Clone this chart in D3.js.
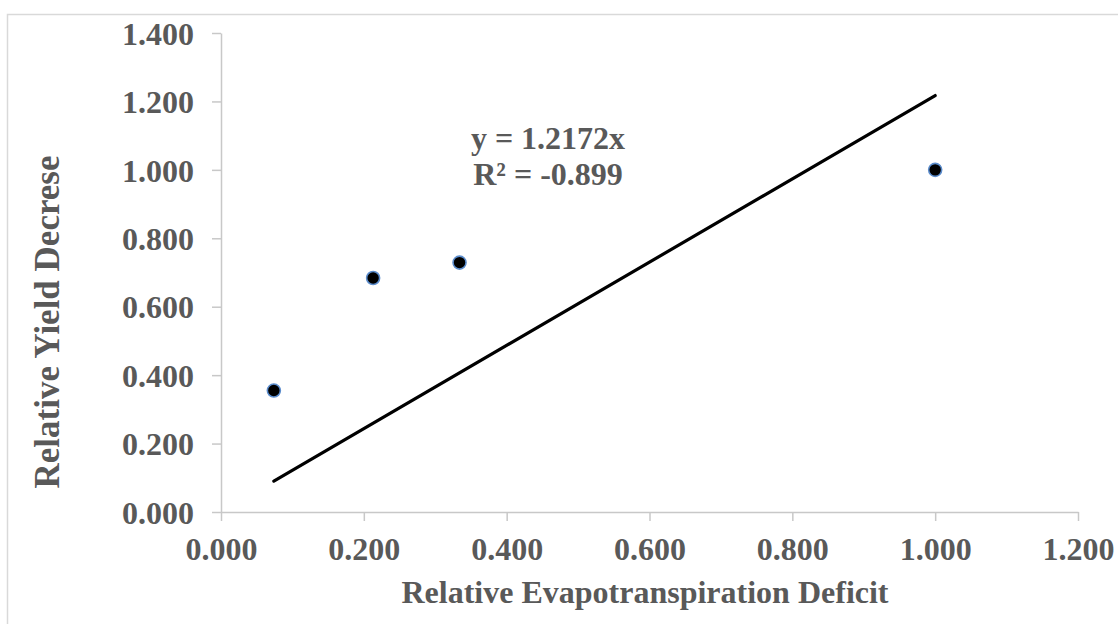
<!DOCTYPE html>
<html>
<head>
<meta charset="utf-8">
<script src="https://cdn.jsdelivr.net/npm/d3@7"></script>
<style>
  body { margin: 0; background: #fff; }
  text { font-family: "Liberation Serif", "Times New Roman", serif; font-weight: bold; fill: #595959; }
</style>
</head>
<body>
<div id="chart"></div>
<script>
// measured points (relative ET deficit vs relative yield decrease)
const etDeficit = [0.074, 0.213, 0.334, 1.0];
const yieldDecrease = [0.355, 0.684, 0.729, 1.0];
const slope = 1.2172;
const eqLabel = "y = 1.2172x";
const r2Label = "R² = -0.899";
const xTicks = [0, 0.2, 0.4, 0.6, 0.8, 1.0, 1.2];
const yTicks = [0, 0.2, 0.4, 0.6, 0.8, 1.0, 1.2, 1.4];
const xTitle = "Relative Evapotranspiration Deficit";
const yTitle = "Relative Yield Decrese";

const width = 1118, height = 624;
const margin = { top: 33, right: 40, bottom: 112, left: 221 };

const svg = d3.select("#chart")
  .append("svg")
  .attr("width", width)
  .attr("height", height);

// outer chart frame
svg.append("rect")
  .attr("x", 7.5).attr("y", 14.5)
  .attr("width", width).attr("height", height)
  .attr("fill", "none")
  .attr("stroke", "#d9d9d9")
  .attr("stroke-width", 1.5);

const x = d3.scaleLinear().domain([0, 1.2]).range([margin.left, width - margin.right]);
const y = d3.scaleLinear().domain([0, 1.4]).range([height - margin.bottom, margin.top]);

const fmt = d3.format(".3f");

const xAxis = svg.append("g")
  .attr("transform", "translate(0," + y(0) + ")")
  .call(d3.axisBottom(x).tickValues(xTicks).tickFormat(fmt).tickSize(9).tickSizeOuter(0).tickPadding(16));

const yAxis = svg.append("g")
  .attr("transform", "translate(" + x(0) + ",0)")
  .call(d3.axisLeft(y).tickValues(yTicks).tickFormat(fmt).tickSize(9).tickSizeOuter(0).tickPadding(18));

[xAxis, yAxis].forEach(g => {
  g.select(".domain").attr("stroke", "#c8c8c8").attr("stroke-width", 1.5);
  g.selectAll(".tick line").attr("stroke", "#c8c8c8").attr("stroke-width", 1.5);
  g.selectAll(".tick text").attr("font-size", 32).attr("fill", "#595959")
    .style("font-family", "'Liberation Serif', serif").style("font-weight", "bold");
});
yAxis.selectAll(".tick text").attr("dy", "0.35em");

// trendline through origin, drawn over the data range
const xMin = d3.min(etDeficit), xMax = d3.max(etDeficit);
svg.append("line")
  .attr("x1", x(xMin)).attr("y1", y(slope * xMin))
  .attr("x2", x(xMax)).attr("y2", y(slope * xMax))
  .attr("stroke", "#000")
  .attr("stroke-width", 3.2)
  .attr("stroke-linecap", "round");

svg.selectAll(".pt")
  .data(etDeficit)
  .enter()
  .append("circle")
  .attr("class", "pt")
  .attr("cx", d => x(d))
  .attr("cy", (d, i) => y(yieldDecrease[i]))
  .attr("r", 6.5)
  .attr("fill", "#000")
  .attr("stroke", "#5b8ccc")
  .attr("stroke-width", 1.6);

// equation label
svg.append("text")
  .attr("x", 548).attr("y", 149)
  .attr("text-anchor", "middle")
  .attr("font-size", 32)
  .text(eqLabel);
svg.append("text")
  .attr("x", 548).attr("y", 185)
  .attr("text-anchor", "middle")
  .attr("font-size", 32)
  .text(r2Label);

// axis titles
svg.append("text")
  .attr("x", 645).attr("y", 603)
  .attr("text-anchor", "middle")
  .attr("font-size", 32)
  .text(xTitle);

svg.append("text")
  .attr("transform", "translate(59,322) rotate(-90)")
  .attr("text-anchor", "middle")
  .attr("font-size", 35)
  .text(yTitle);
</script>
</body>
</html>
